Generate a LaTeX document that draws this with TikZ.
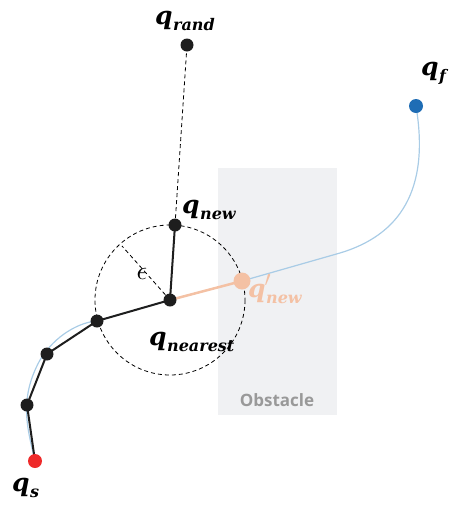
\documentclass[tikz,border=0pt]{standalone}
\usepackage{fontspec}
\usepackage{amsmath}
\usepackage{graphicx}
\newfontfamily\obsfont{Open Sans}
\newfontfamily\qfont{DejaVu Serif}
\definecolor{dotblack}{HTML}{1E1E1E}
\definecolor{qsred}{HTML}{EE2A2A}
\definecolor{qfblue}{HTML}{1F6DB5}
\definecolor{peach}{HTML}{F4C1A4}
\definecolor{pathblue}{HTML}{A9CCE6}
\definecolor{obsgray}{HTML}{F0F1F3}
\definecolor{obstext}{HTML}{999999}
\newcommand{\subtxt}[1]{\raisebox{-6pt}{\qfont\bfseries\itshape\fontsize{16}{16}\selectfont #1}}
\newcommand{\qlab}[1]{{\qfont\bfseries\itshape\fontsize{25}{25}\selectfont q}\kern0.5pt\subtxt{#1}}
\newcommand{\qplab}[1]{{\qfont\bfseries\itshape\fontsize{25}{25}\selectfont q}\rlap{\kern-1pt\raisebox{11pt}{\scalebox{2.2}{$\prime$}}}\kern0.5pt\subtxt{#1}}
\tikzset{
  vtx/.style={circle, fill=dotblack, inner sep=0pt, minimum size=13pt},
  lbl/.style={inner sep=0pt, anchor=base west},
  edge/.style={line width=2pt, dotblack},
  dsh/.style={line width=0.8pt, dash pattern=on 4pt off 3pt},
}
\begin{document}
\begin{tikzpicture}[x=1pt,y=-1pt]
\useasboundingbox (0,0) rectangle (449,507);
% obstacle
\fill[obsgray] (218,168) rectangle (337,415);
\node[inner sep=0pt, text=obstext, font=\obsfont\bfseries\fontsize{17}{19}\selectfont] (obs) at (277,400) {Obstacle};
% coordinates
\coordinate (qs) at (35,461);
\coordinate (c1) at (27,405);
\coordinate (c2) at (47,354);
\coordinate (c3) at (97,321);
\coordinate (qn) at (170,300);
\coordinate (qnew) at (175,225);
\coordinate (qr) at (187,45);
\coordinate (qp) at (242,281);
\coordinate (qf) at (416,106);
\coordinate (eps) at (122,246);
% blue path
\draw[pathblue, line width=1.2pt] (qs) .. controls (28,430) and (18,400) .. (40,360)
  .. controls (55,335) and (80,322) .. (97,321) -- (qn) -- (qp) -- (340,253)
  .. controls (400,235) and (430,190) .. (qf);
% circle
\draw[dsh] (qn) circle (75);
% dashed lines
\draw[dsh] (qnew) -- (qr);
\draw[dsh] (qn) -- (eps);
% edges
\draw[edge] (qs) -- (c1) -- (c2) -- (c3) -- (qn) -- (qnew);
\draw[peach, line width=2.5pt] (qn) -- (qp);
% vertices
\node[circle, fill=qsred, inner sep=0pt, minimum size=14pt] (ns) at (qs) {};
\node[vtx] (n1) at (c1) {};
\node[vtx] (n2) at (c2) {};
\node[vtx] (n3) at (c3) {};
\node[vtx] (nn) at (qn) {};
\node[vtx] (nnew) at (qnew) {};
\node[vtx] (nr) at (qr) {};
\node[circle, fill=peach, inner sep=0pt, minimum size=17pt] (np) at (qp) {};
\node[circle, fill=qfblue, inner sep=0pt, minimum size=14pt] (nf) at (qf) {};
% labels
\node[lbl] (lr) at (155,24) {\qlab{rand}};
\node[lbl] (lnew) at (182,213) {\qlab{new}};
\node[lbl] (lnear) at (149,345) {\qlab{nearest}};
\node[lbl, text=peach] (lp) at (248,297) {\qplab{new}};
\node[lbl] (ls) at (12,491) {\qlab{s}};
\node[lbl] (lf) at (421,75) {\qlab{f}};
\node[inner sep=0pt] (le) at (142,274) {\scalebox{2.6}{$\epsilon$}};
\end{tikzpicture}
\end{document}
